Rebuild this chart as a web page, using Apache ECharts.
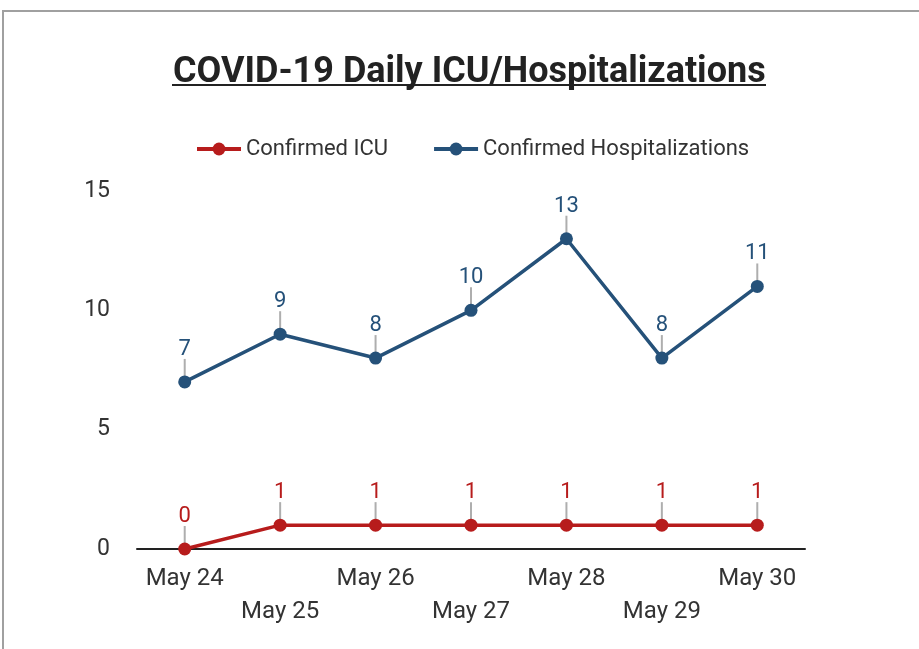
<!DOCTYPE html>
<html lang="en">
<head>
    <meta charset="UTF-8">
    <title>COVID-19 Daily ICU/Hospitalizations</title>
    <style>
        * {
            padding: 0;
            margin: 0;
        }

        #chart {
            width: 919px;
            height: 649px;
            background: #fff;
        }
    </style>
    <script src="https://cdn.jsdelivr.net/npm/echarts@6/dist/echarts.min.js"></script>
</head>
<body>
<div id="chart"></div>
<script>
    const days = ['May 24', 'May 25', 'May 26', 'May 27', 'May 28', 'May 29', 'May 30']
    const icu = [0, 1, 1, 1, 1, 1, 1]
    const hospitalizations = [7, 9, 8, 10, 13, 8, 11]
    const yTicks = [0, 5, 10, 15]

    const RED = '#b71c1c'
    const BLUE = '#255179'
    const FONT = 'Roboto'

    // small grey stick over each point, drawn from the same values
    function leader(data) {
        return {
            type: 'scatter',
            data: data,
            silent: true,
            symbol: 'rect',
            symbolSize: [2, 18],
            symbolOffset: [0, -14],
            itemStyle: {color: '#9a9a9a'},
            z: 1
        }
    }

    function lineSeries(name, data, color) {
        return {
            name: name,
            type: 'line',
            data: data,
            symbol: 'circle',
            symbolSize: 13,
            lineStyle: {width: 3.5, color: color},
            itemStyle: {color: color},
            label: {
                show: true,
                position: 'top',
                distance: 15,
                color: color,
                fontFamily: FONT,
                fontSize: 22
            },
            z: 3
        }
    }

    let chart = echarts.init(document.getElementById('chart'))
    chart.setOption({
        backgroundColor: '#fff',
        animation: false,
        graphic: [
            {
                type: 'rect',
                shape: {x: 3, y: 11, width: 1000, height: 1000},
                style: {fill: 'none', stroke: '#a0a0a0', lineWidth: 2},
                silent: true
            },
            {
                // underline of the title
                type: 'line',
                shape: {x1: 172, y1: 85, x2: 766, y2: 85},
                style: {stroke: '#222', lineWidth: 2},
                silent: true
            }
        ],
        title: {
            text: 'COVID-19 Daily ICU/Hospitalizations',
            left: 168,
            top: 50,
            textStyle: {
                fontFamily: FONT,
                fontWeight: 'bold',
                fontSize: 36,
                color: '#222'
            }
        },
        legend: {
            data: ['Confirmed ICU', 'Confirmed Hospitalizations'],
            top: 133,
            left: 190,
            itemWidth: 44,
            itemHeight: 16,
            itemGap: 44,
            lineStyle: {width: 4},
            textStyle: {fontFamily: FONT, fontSize: 22, color: '#333'}
        },
        grid: {
            left: 137,
            right: 114,
            top: 191,
            bottom: 100
        },
        xAxis: {
            type: 'category',
            data: days,
            boundaryGap: true,
            axisLine: {lineStyle: {color: '#222', width: 2}},
            axisTick: {show: false},
            axisLabel: {
                interval: 0,
                margin: 13,
                fontFamily: FONT,
                fontSize: 24,
                lineHeight: 33,
                color: '#333',
                formatter: (v, i) => i % 2 ? '\n' + v : v
            }
        },
        yAxis: {
            type: 'value',
            min: yTicks[0],
            max: yTicks[yTicks.length - 1],
            interval: 5,
            axisLine: {show: false},
            axisTick: {show: false},
            splitLine: {show: false},
            axisLabel: {
                margin: 27,
                fontFamily: FONT,
                fontSize: 23,
                color: '#333'
            }
        },
        series: [
            leader(icu),
            leader(hospitalizations),
            lineSeries('Confirmed ICU', icu, RED),
            lineSeries('Confirmed Hospitalizations', hospitalizations, BLUE)
        ]
    })
</script>
</body>
</html>
